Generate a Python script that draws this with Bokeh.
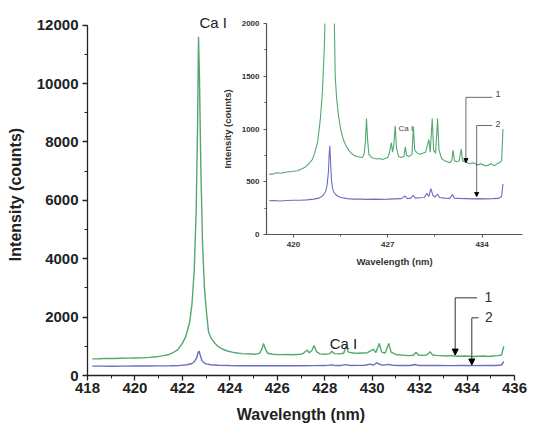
from bokeh.plotting import figure
from bokeh.models import Range1d, FixedTicker, Label, Arrow, NormalHead, ColumnDataSource
from bokeh.core.properties import value
from bokeh.embed import file_html
from bokeh.resources import INLINE

FONT = "Liberation Sans"

# ---- data ----
wl_green = [418.2, 418.5, 418.8, 419.1, 419.4, 419.7, 420.0, 420.3, 420.6, 420.9,
            421.2, 421.4, 421.6, 421.8, 422.0, 422.15, 422.3, 422.4, 422.5, 422.58,
            422.64, 422.68, 422.72, 422.78, 422.85, 422.93, 423.0, 423.1, 423.2, 423.35,
            423.5, 423.7, 423.9, 424.1, 424.3, 424.5, 424.7, 424.9, 425.1, 425.25,
            425.35, 425.42, 425.5, 425.6, 425.8, 426.0, 426.2, 426.4, 426.6, 426.8,
            427.0, 427.1, 427.2, 427.27, 427.35, 427.45, 427.55, 427.65, 427.8, 428.0,
            428.2, 428.3, 428.4, 428.6, 428.8, 428.9, 429.0, 429.2, 429.4, 429.6,
            429.8, 429.95, 430.05, 430.15, 430.3, 430.4, 430.55, 430.7, 430.8, 431.0,
            431.2, 431.4, 431.6, 431.75, 431.85, 431.95, 432.1, 432.3, 432.45, 432.55,
            432.7, 432.9, 433.1, 433.3, 433.5, 433.7, 433.9, 434.1, 434.3, 434.5,
            434.7, 434.9, 435.1, 435.3, 435.45, 435.55]
int_green = [570, 575, 585, 580, 590, 595, 600, 605, 620, 640,
             680, 710, 780, 880, 1100, 1350, 1800, 2400, 3600, 5600,
             8500, 11600, 10200, 7000, 4500, 3000, 2300, 1500, 1300, 1120,
             1000, 900, 840, 800, 770, 750, 740, 735, 730, 760,
             900, 1100, 900, 760, 730, 720, 715, 720, 710, 720,
             730, 760, 830, 870, 780, 850, 1030, 820, 740, 730,
             740, 830, 750, 740, 760, 1020, 800, 770, 760, 770,
             780, 850, 900, 780, 1100, 800, 770, 1100, 800, 720,
             700, 690, 680, 700, 800, 700, 690, 700, 810, 700,
             690, 680, 670, 680, 670, 660, 670, 660, 650, 660,
             670, 650, 670, 680, 700, 1000]

wl_blue = [418.2, 418.6, 419.0, 419.5, 420.0, 420.5, 421.0, 421.5, 421.9, 422.2,
           422.4, 422.5, 422.6, 422.66, 422.7, 422.75, 422.82, 422.9, 423.0, 423.2,
           423.5, 424.0, 424.5, 425.0, 425.5, 426.0, 426.5, 427.0, 427.5, 428.0,
           428.3, 428.45, 428.7, 428.9, 429.05, 429.4, 429.7, 429.9, 430.05, 430.2,
           430.35, 430.5, 430.7, 430.85, 431.2, 431.6, 431.8, 431.95, 432.3, 432.8,
           433.3, 433.8, 434.3, 434.8, 435.2, 435.45, 435.55]
int_blue = [320, 322, 318, 322, 325, 325, 328, 335, 345, 370,
            410, 470, 600, 780, 840, 700, 520, 440, 400, 370,
            350, 340, 335, 335, 333, 335, 333, 335, 338, 340,
            365, 340, 345, 372, 345, 348, 350, 390, 360, 435,
            370, 355, 382, 350, 345, 342, 378, 345, 342, 340,
            338, 340, 338, 340, 342, 360, 480]

main_xticks = [418, 420, 422, 424, 426, 428, 430, 432, 434, 436]
main_xminor = [418, 419, 420, 421, 422, 423, 424, 425, 426, 427, 428, 429, 430, 431, 432, 433, 434, 435, 436]
main_yticks = [0, 2000, 4000, 6000, 8000, 10000, 12000]
main_yminor = [0, 1000, 2000, 3000, 4000, 5000, 6000, 7000, 8000, 9000, 10000, 11000, 12000]

inset_xticks = [420, 427, 434]
inset_xminor = [416.5, 420, 423.5, 427, 430.5, 434, 437.5]
inset_yticks = [0, 500, 1000, 1500, 2000]
inset_yminor = [0, 250, 500, 750, 1000, 1250, 1500, 1750, 2000]

# annotation positions: arrows (x, top, tip, end of horizontal), labels
main_arrow_x = [433.5, 434.2]
main_arrow_top = [2660, 1976]
main_arrow_tip = [700, 360]
main_arrow_hend = [434.42, 434.48]
main_arrow_lbl_x = [434.74, 434.76]
main_arrow_lbl_y = [2700, 2020]
arrow_labels = ["1", "2"]

inset_arrow_x = [432.8, 433.6]
inset_arrow_top = [1300, 1033]
inset_arrow_tip = [682, 360]
inset_arrow_hend = [434.76, 434.76]
inset_arrow_lbl_x = [435.0, 435.0]
inset_arrow_lbl_y = [1330, 1050]

GREEN = "#52a86f"
BLUE = "#6a6fc0"

src_g = ColumnDataSource(dict(x=wl_green, y=int_green))
src_b = ColumnDataSource(dict(x=wl_blue, y=int_blue))

# ---- main plot ----
p = figure(width=534, height=430, output_backend="svg", toolbar_location=None,
           x_range=Range1d(418, 436), y_range=Range1d(0, 12400),
           min_border_left=87, min_border_right=20, min_border_top=13, min_border_bottom=55)
p.grid.visible = False
p.outline_line_color = None
p.background_fill_color = "white"
p.border_fill_color = "white"

p.line("x", "y", source=src_g, line_color=GREEN, line_width=1.4)
p.line("x", "y", source=src_b, line_color=BLUE, line_width=1.4)

p.xaxis.ticker = FixedTicker(ticks=main_xticks, minor_ticks=main_xminor)
p.yaxis.ticker = FixedTicker(ticks=main_yticks, minor_ticks=main_yminor)
p.yaxis.bounds = (0, 12000)
for ax in (p.xaxis[0], p.yaxis[0]):
    ax.axis_line_color = "#222222"
    ax.axis_line_width = 1.3
    ax.major_tick_line_color = "#222222"
    ax.minor_tick_line_color = "#222222"
    ax.major_tick_line_width = 1.3
    ax.major_tick_out = 5
    ax.major_tick_in = 0
    ax.minor_tick_out = 3
    ax.minor_tick_in = 0
    ax.major_label_text_font = FONT
    ax.major_label_text_font_style = "bold"
    ax.major_label_text_font_size = "15px"
    ax.major_label_text_color = "#222222"
    ax.axis_label_text_font = FONT
    ax.axis_label_text_font_style = "bold"
    ax.axis_label_text_font_size = "16px"
    ax.axis_label_text_color = "#222222"
p.xaxis.major_label_standoff = 2
p.yaxis.major_label_standoff = 4
p.xaxis.axis_label = "Wavelength (nm)"
p.yaxis.axis_label = "Intensity (counts)"
p.xaxis.axis_label_standoff = 10
p.yaxis.axis_label_standoff = 10

p.add_layout(Label(x=422.72, y=12080, text="Ca I", text_font=FONT, text_font_size="15px",
                   text_baseline="middle", text_color="#222222"))
p.add_layout(Label(x=428.21, y=1096, text="Ca I", text_font=FONT, text_font_size="15px",
                   text_baseline="middle", text_color="#222222"))

p.segment(x0=main_arrow_x, y0=main_arrow_top, x1=main_arrow_hend, y1=main_arrow_top,
          line_color="#333333", line_width=1)
for xa, yt, yb in zip(main_arrow_x, main_arrow_top, main_arrow_tip):
    p.add_layout(Arrow(x_start=xa, y_start=yt, x_end=xa, y_end=yb, line_color="#333333", line_width=1,
                       end=NormalHead(size=6, fill_color="black", line_color="black")))
p.text(x=main_arrow_lbl_x, y=main_arrow_lbl_y, text=arrow_labels, text_font=value(FONT),
       text_font_size="14px", text_baseline="middle", text_color="#333333")

# ---- inset ----
q = figure(width=310, height=252, output_backend="svg", toolbar_location=None,
           x_range=Range1d(418, 437), y_range=Range1d(0, 2000),
           min_border_left=44, min_border_right=6, min_border_top=5, min_border_bottom=36)
q.grid.visible = False
q.outline_line_color = None
q.background_fill_color = None
q.border_fill_color = None
q.line("x", "y", source=src_g, line_color=GREEN, line_width=1.1)
q.line("x", "y", source=src_b, line_color=BLUE, line_width=1.1)
q.xaxis.ticker = FixedTicker(ticks=inset_xticks, minor_ticks=inset_xminor)
q.yaxis.ticker = FixedTicker(ticks=inset_yticks, minor_ticks=inset_yminor)
for ax in (q.xaxis[0], q.yaxis[0]):
    ax.axis_line_color = "#555555"
    ax.axis_line_width = 1.2
    ax.major_tick_line_color = "#555555"
    ax.minor_tick_line_color = "#555555"
    ax.major_tick_out = 3
    ax.major_tick_in = 0
    ax.minor_tick_out = 2
    ax.minor_tick_in = 0
    ax.major_label_text_font = FONT
    ax.major_label_text_font_style = "bold"
    ax.major_label_text_font_size = "8px"
    ax.major_label_text_color = "#333333"
    ax.major_label_standoff = 4
    ax.axis_label_text_font = FONT
    ax.axis_label_text_font_style = "bold"
    ax.axis_label_text_font_size = "9.5px"
    ax.axis_label_text_color = "#333333"
q.xaxis.axis_label = "Wavelength (nm)"
q.yaxis.axis_label = "Intensity (counts)"
q.xaxis.axis_label_standoff = 6
q.yaxis.axis_label_standoff = 6
q.add_layout(Label(x=427.8, y=1005, text="Ca I", text_font=FONT, text_font_size="8px",
                   text_baseline="middle", text_color="#444444"))
q.segment(x0=inset_arrow_x, y0=inset_arrow_top, x1=inset_arrow_hend, y1=inset_arrow_top,
          line_color="#444444", line_width=0.8)
for xa, yt, yb in zip(inset_arrow_x, inset_arrow_top, inset_arrow_tip):
    q.add_layout(Arrow(x_start=xa, y_start=yt, x_end=xa, y_end=yb, line_color="#444444", line_width=0.8,
                       end=NormalHead(size=4, fill_color="black", line_color="black")))
q.text(x=inset_arrow_lbl_x, y=inset_arrow_lbl_y, text=arrow_labels, text_font=value(FONT),
       text_font_size="9px", text_baseline="middle", text_color="#444444")

q.styles = {"position": "absolute", "left": "218px", "top": "18px"}

open("out.html", "w").write(file_html([p, q], INLINE))
